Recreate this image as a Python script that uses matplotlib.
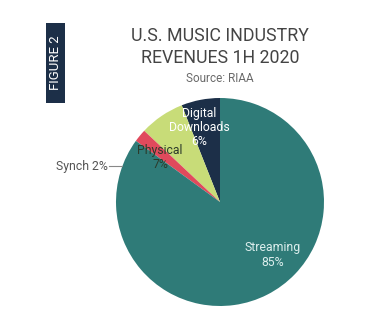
import matplotlib.pyplot as plt
from matplotlib.patches import Rectangle

plt.rcParams['font.family'] = ['Roboto', 'DejaVu Sans']

## Data ==============================================
segments = ['Digital\nDownloads', 'Physical', 'Synch', 'Streaming']
shares = [6, 7, 2, 85]  # percent of revenue
colors = ['#1c2f48', '#c8dc78', '#e04a5c', '#2f7b78']
text_colors = ['#ffffff', '#2c3a2a', '#555555', '#dceeed']

W, H = 390, 330
cx, cy, r = 220, 202, 104  # pie centre / radius in pixels


def px(x, y):
    # pixel (from top-left) -> figure fraction
    return x / W, 1 - y / H


def pd(x, y):
    # pixel -> pie data coordinates
    return (x - cx) / r, (cy - y) / r


fig = plt.figure(figsize=(W / 100, H / 100), dpi=100)
fig.patch.set_facecolor('white')

# Titles
fig.text(*px(220, 36), 'U.S. MUSIC INDUSTRY', ha='center', va='center',
         fontsize=12.8, color='#444444')
fig.text(*px(220, 58), 'REVENUES 1H 2020', ha='center', va='center',
         fontsize=12.8, color='#444444')
fig.text(*px(220, 78), 'Source: RIAA', ha='center', va='center',
         fontsize=8.5, color='#6a6a6a')

# FIGURE 2 tab
x0, y0 = px(46, 103)
fig.patches.append(Rectangle((x0, y0), 19 / W, 80 / H, transform=fig.transFigure,
                             facecolor='#1c2f48', edgecolor='none'))
fig.text(*px(55.5, 63), 'FIGURE 2', rotation=90, ha='center', va='center',
         fontsize=9.5, color='white')

# Pie
ax = fig.add_axes([(cx - r) / W, (H - cy - r) / H, 2 * r / W, 2 * r / H])
wedges, _ = ax.pie(shares, colors=colors, startangle=90, counterclock=True,
                   wedgeprops=dict(linewidth=0))
ax.set_xlim(-1, 1)
ax.set_ylim(-1, 1)
ax.set_aspect('equal')
ax.axis('off')

# Slice labels
label_pos = [(199, 127), (160, 157), None, (273, 255)]
for name, val, pos, tc in zip(segments, shares, label_pos, text_colors):
    if pos is None:
        continue
    ax.text(*pd(*pos), f'{name}\n{val}%', ha='center', va='center',
            fontsize=8.8, color=tc, linespacing=1.1)

# Synch sits outside with a leader line
ax.text(*pd(108, 166), f'{segments[2]} {shares[2]}%', ha='right', va='center',
        fontsize=8.8, color=text_colors[2])
ax.plot(*zip(pd(109, 166), pd(122, 166)), color='#888888', lw=0.8,
        clip_on=False)

fig.savefig('out.png', dpi=100)
